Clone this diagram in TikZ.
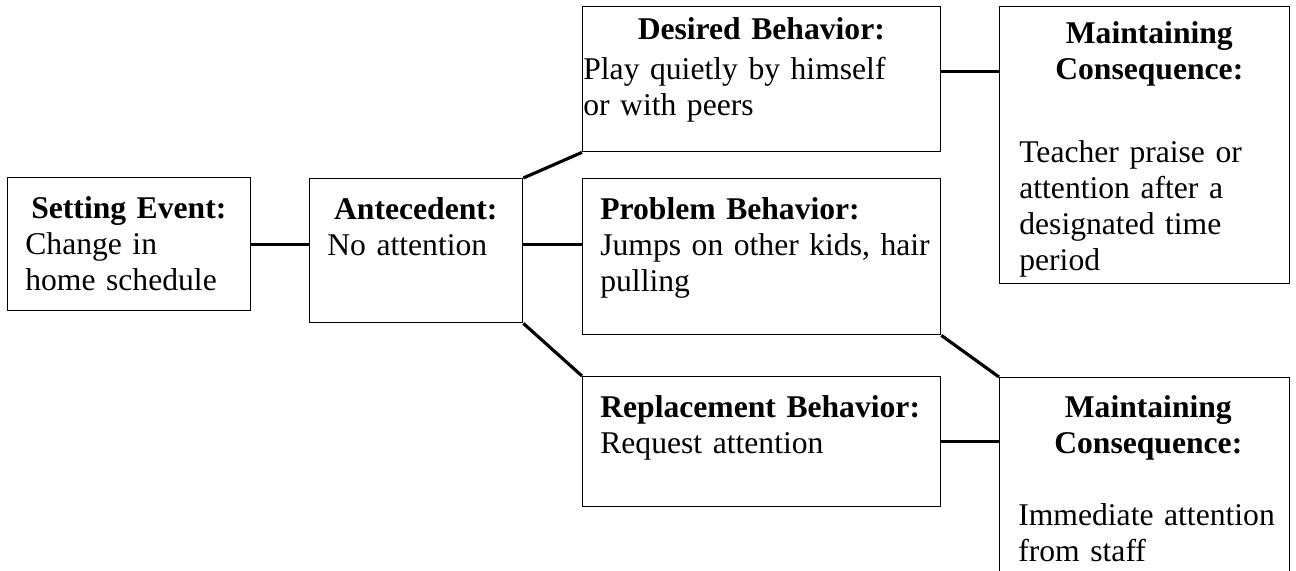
\documentclass[tikz,border=0pt]{standalone}
\usepackage{fontspec}
\setmainfont{Liberation Serif}
\hyphenpenalty=10000
\begin{document}
\begin{tikzpicture}[x=0.02cm,y=-0.02cm,
  box/.style={draw,line width=0.8pt,rectangle,anchor=north west,inner sep=0pt},
  txt/.style={anchor=north west,inner sep=0pt,align=left,
    font=\fontsize{18}{20.5}\selectfont},
  link/.style={line width=1.8pt}]
\clip (0,0) rectangle (1296,571);
% boxes
\node[box,minimum width=4.86cm,minimum height=2.66cm] (setting) at (7,177) {};
\node[box,minimum width=4.26cm,minimum height=2.88cm] (antecedent) at (309,178) {};
\node[box,minimum width=7.16cm,minimum height=2.90cm] (desired) at (582,6) {};
\node[box,minimum width=7.16cm,minimum height=3.12cm] (problem) at (582,178) {};
\node[box,minimum width=7.16cm,minimum height=2.60cm] (replacement) at (582,376) {};
\node[box,minimum width=5.80cm,minimum height=5.54cm] (consTop) at (999,6) {};
\node[box,minimum width=5.80cm,minimum height=4.20cm] (consBot) at (999,377) {};
% texts
\node[txt,text width=4.14cm] at ([xshift=0.36cm,yshift=-0.38cm]setting.north west)
  {{\centering\bfseries Setting Event:\par}\raggedright Change in\\home schedule};
\node[txt,text width=3.54cm] at ([xshift=0.36cm,yshift=-0.38cm]antecedent.north west)
  {{\centering\bfseries Antecedent:\par}\raggedright No attention};
\node[txt,text width=7.12cm] at ([xshift=0.02cm,yshift=-0.22cm]desired.north west)
  {{\centering\bfseries Desired Behavior:\par}\raggedright\vspace{0.08cm}Play quietly by himself\\or with peers};
\node[txt,text width=6.70cm] at ([xshift=0.36cm,yshift=-0.38cm]problem.north west)
  {{\bfseries Problem Behavior:\par}\raggedright Jumps on other kids, hair\\pulling};
\node[txt,text width=6.70cm] at ([xshift=0.36cm,yshift=-0.38cm]replacement.north west)
  {{\bfseries Replacement Behavior:\par}\raggedright Request attention};
\node[txt,text width=5.20cm] at ([xshift=0.40cm,yshift=-0.30cm]consTop.north west)
  {{\centering\bfseries Maintaining\\Consequence:\par}\raggedright\mbox{}\\[0.22cm]Teacher praise or\\attention after a\\designated time\\period};
\node[txt,text width=5.20cm] at ([xshift=0.38cm,yshift=-0.36cm]consBot.north west)
  {{\centering\bfseries Maintaining\\Consequence:\par}\raggedright\mbox{}\\Immediate attention\\from staff};
% connectors
\draw[link] (setting.east) -- (setting.east -| antecedent.west);
\draw[link] (antecedent.north east) -- (desired.south west);
\draw[link] (setting.east -| antecedent.east) -- (setting.east -| problem.west);
\draw[link] (antecedent.south east) -- (replacement.north west);
\coordinate (dc) at ([yshift=0.15cm]desired.east);
\draw[link] (dc) -- (dc -| consTop.west);
\draw[link] (problem.south east) -- (consBot.north west);
\draw[link] (replacement.east) -- (replacement.east -| consBot.west);
\end{tikzpicture}
\end{document}
